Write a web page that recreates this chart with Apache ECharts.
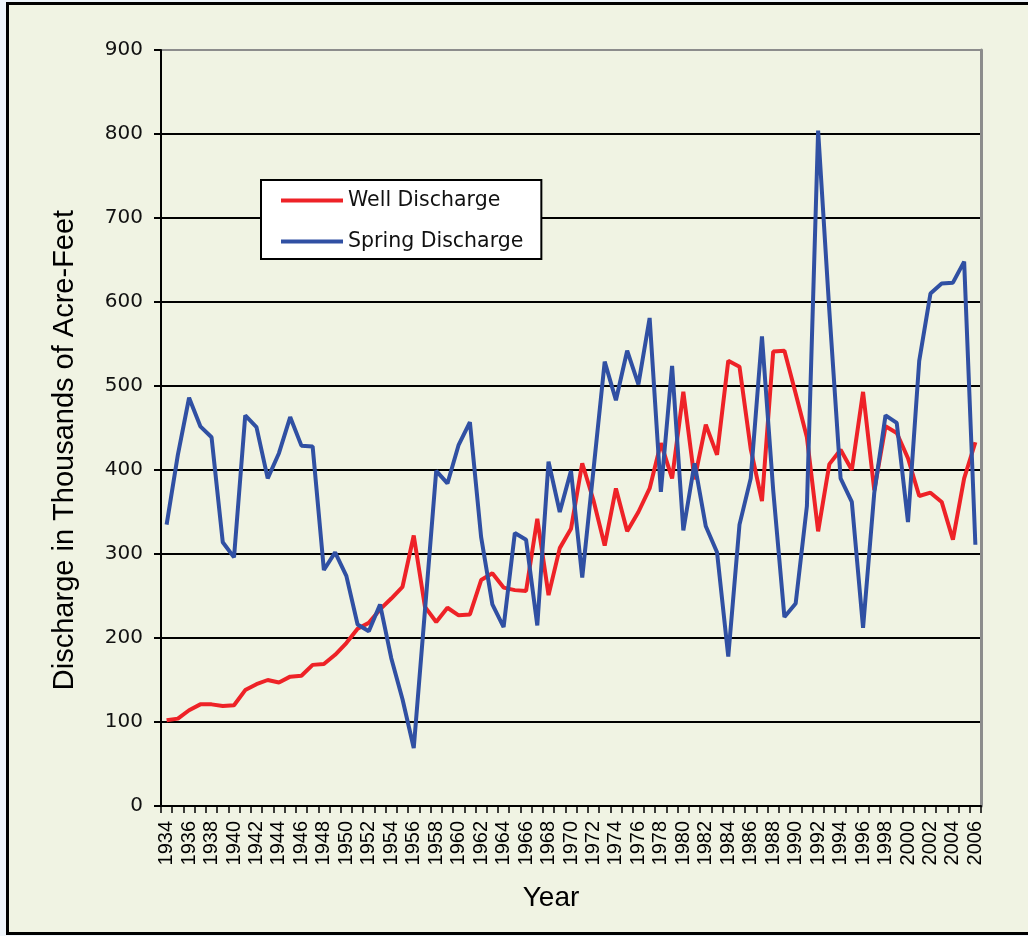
<!DOCTYPE html>
<html>
<head>
<meta charset="utf-8">
<script src="https://cdn.jsdelivr.net/npm/echarts@6/dist/echarts.min.js"></script>
<style>
html,body{margin:0;padding:0;background:#EEF4FA;}
#chart{width:1028px;height:936px;}
</style>
</head>
<body>
<div id="chart"></div>
<script>
const years = ['1934','1935','1936','1937','1938','1939','1940','1941','1942','1943',
  '1944','1945','1946','1947','1948','1949','1950','1951','1952','1953',
  '1954','1955','1956','1957','1958','1959','1960','1961','1962','1963',
  '1964','1965','1966','1967','1968','1969','1970','1971','1972','1973',
  '1974','1975','1976','1977','1978','1979','1980','1981','1982','1983',
  '1984','1985','1986','1987','1988','1989','1990','1991','1992','1993',
  '1994','1995','1996','1997','1998','1999','2000','2001','2002','2003',
  '2004','2005','2006'];

const wellDischarge = [102,104,114,121,121,119,120,138,145,150,
  147,154,155,168,169,180,194,211,218,234,
  247,261,322,237,219,236,227,228,269,277,
  260,257,256,342,251,307,330,408,364,310,
  378,327,350,378,432,390,493,389,454,418,
  530,523,425,363,541,542,491,439,327,407,
  424,400,493,376,452,444,414,369,373,362,
  317,390,433];

const springDischarge = [335,418,486,452,439,314,296,465,451,390,
  420,463,429,428,281,302,274,216,208,240,
  176,127,69,233,399,384,430,457,320,240,
  213,325,317,215,410,350,399,272,400,529,
  483,542,502,581,374,524,328,408,333,302,
  178,335,390,559,376,225,241,357,804,589,
  390,362,212,373,465,456,338,530,610,622,
  623,648,311];

const yMin = 0, yMax = 900, yStep = 100;
const seriesNames = ['Well Discharge', 'Spring Discharge'];
const yTitle = 'Discharge in Thousands of Acre-Feet';
const xTitle = 'Year';

const chart = echarts.init(document.getElementById('chart'), null, {renderer: 'canvas'});

const gridColors = [];
for (let v = yMin; v <= yMax; v += yStep) gridColors.push(v === yMax ? '#8c8c8c' : '#000');

const option = {
  backgroundColor: '#EEF4FA',
  animation: false,
  graphic: [{
    type: 'rect', z: -100,
    shape: {x: 7.5, y: 3.5, width: 1040, height: 930},
    style: {fill: '#F0F3E3', stroke: '#000', lineWidth: 3}
  }],
  grid: {left: 161, right: 47, top: 50, bottom: 130, containLabel: false},
  legend: {
    orient: 'vertical',
    left: 261, top: 180,
    padding: [10, 18, 7, 20],
    itemWidth: 62, itemHeight: 4, itemGap: 20,
    backgroundColor: '#fff',
    borderColor: '#000', borderWidth: 2,
    textStyle: {fontFamily: 'DejaVu Sans', fontSize: 20.5, lineHeight: 20, color: '#111'},
    data: [{name: seriesNames[0], icon: 'rect'}, {name: seriesNames[1], icon: 'rect'}]
  },
  xAxis: {
    type: 'category', data: years, boundaryGap: true,
    axisLine: {show: true, lineStyle: {color: '#000', width: 2}},
    axisTick: {show: true, interval: 0, length: 7, lineStyle: {color: '#000', width: 1.5}},
    axisLabel: {interval: 1, rotate: 90, fontFamily: 'Liberation Sans', fontSize: 20, color: '#000', margin: 15},
    splitLine: {show: false},
    name: xTitle, nameLocation: 'middle', nameGap: 78,
    nameTextStyle: {fontFamily: 'Liberation Sans', fontSize: 28, color: '#000', padding: [0, 40, 0, 0]}
  },
  yAxis: [{
    type: 'value', min: yMin, max: yMax, interval: yStep,
    axisLine: {show: true, lineStyle: {color: '#000', width: 2}},
    axisTick: {show: true, length: 7, lineStyle: {color: '#000', width: 2}},
    axisLabel: {fontFamily: 'DejaVu Sans', fontSize: 20, color: '#111', margin: 18},
    splitLine: {show: true, lineStyle: {color: gridColors, width: 2}},
    name: yTitle, nameLocation: 'middle', nameGap: 82, nameRotate: 90,
    nameTextStyle: {fontFamily: 'Liberation Sans', fontSize: 29, color: '#000', padding: [0, 44, 0, 0]}
  }, {
    type: 'value', position: 'right', min: yMin, max: yMax, interval: yStep,
    axisLine: {show: true, lineStyle: {color: '#8c8c8c', width: 3}},
    axisTick: {show: false}, axisLabel: {show: false}, splitLine: {show: false}
  }],
  series: [{
    name: seriesNames[0], type: 'line', data: wellDischarge,
    showSymbol: false, symbol: 'none',
    lineStyle: {color: '#EE2227', width: 4}, itemStyle: {color: '#EE2227'}
  }, {
    name: seriesNames[1], type: 'line', data: springDischarge,
    showSymbol: false, symbol: 'none',
    lineStyle: {color: '#3050A3', width: 4}, itemStyle: {color: '#3050A3'}
  }]
};
chart.setOption(option);
</script>
</body>
</html>
